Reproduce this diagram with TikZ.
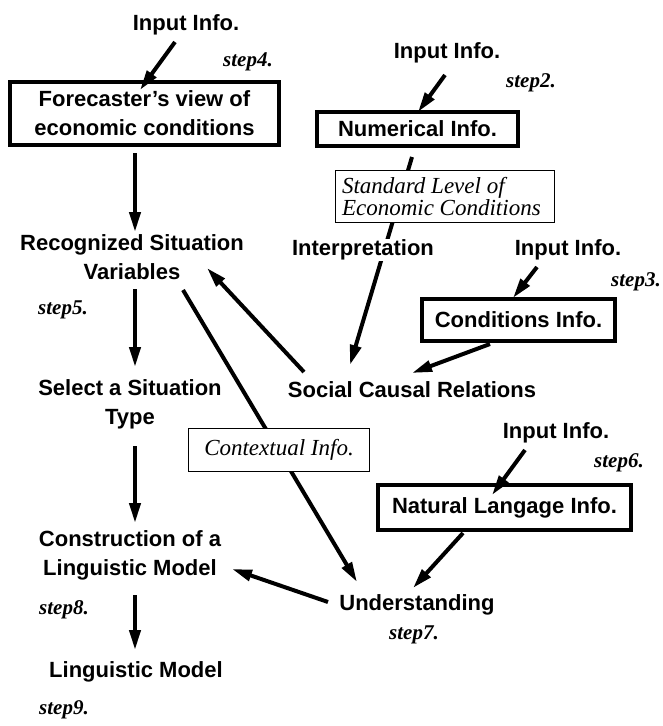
\documentclass[tikz,border=0pt]{standalone}
\usepackage{fontspec}
\setmainfont{Liberation Serif}
\setsansfont{Liberation Sans}
\usetikzlibrary{arrows.meta,calc}

\tikzset{
  lbl/.style={font=\sffamily\bfseries\fontsize{22}{29}\selectfont, align=center, inner sep=0pt},
  steplbl/.style={font=\rmfamily\bfseries\itshape\fontsize{21}{25}\selectfont, inner sep=0pt},
  thickbox/.style={lbl, draw, line width=3.8pt},
  notebox/.style={draw, line width=1.3pt, fill=white, inner sep=0pt,
                  font=\rmfamily\itshape\fontsize{23}{21.5}\selectfont},
  arr/.style={line width=4pt, -{Triangle[length=20pt,width=11pt]}},
}

\begin{document}
\begin{tikzpicture}[x=1pt,y=-1pt]
\useasboundingbox[fill=white] (0,0) rectangle (663,726);

% left column
\node[lbl] (in4) at (186,25) {Input Info.};
\node[steplbl] (s4) at (248,62) {step4.};
\node[thickbox, minimum width=269.5pt, minimum height=63.5pt] (fv) at (144.5,113.5)
  {Forecaster's view of\\economic conditions};
\node[lbl] (rsv) at (132,257) {Recognized Situation\\Variables};
\node[steplbl] (s5) at (63,310) {step5.};
\node[lbl] (sst) at (130,404) {Select a Situation\\Type};
\node[lbl] (clm) at (130,555) {Construction of a\\Linguistic Model};
\node[steplbl] (s8) at (64,610) {step8.};
\node[lbl] (lm) at (136,672) {Linguistic Model};
\node[steplbl] (s9) at (64,710) {step9.};

% right side
\node[lbl] (in2) at (447,53) {Input Info.};
\node[steplbl] (s2) at (531,83) {step2.};
\node[thickbox, minimum width=201.5pt, minimum height=34.5pt] (num) at (417.5,129) {Numerical Info.};
\node[lbl] (in3) at (568,250) {Input Info.};
\node[steplbl] (s3) at (636,282) {step3.};
\node[thickbox, minimum width=193.5pt, minimum height=42.5pt] (cond) at (518.5,320) {Conditions Info.};
\node[lbl] (scr) at (412,390) {Social Causal Relations};
\node[lbl] (in6) at (556,433) {Input Info.};
\node[steplbl] (s6) at (619,463) {step6.};
\node[thickbox, minimum width=253.5pt, minimum height=45.5pt] (nat) at (504.5,507.5) {Natural Langage Info.};
\node[lbl] (und) at (417,605) {Understanding};
\node[steplbl] (s7) at (414,635) {step7.};

% connectors passing under the note boxes
\draw[arr] ($(num)+(-5.5,28)$) -- ($(scr)+(-62,-25)$);
\draw[arr] ($(rsv)+(51,33)$) -- ($(und)+(-60,-23)$);

% note boxes and label drawn over the lines
\node[notebox, minimum width=219pt, minimum height=52pt] (std) at (445,196.5)
  {\parbox{206pt}{\raggedright Standard Level of\\Economic Conditions}};
\node[lbl, fill=white, inner sep=1pt] (interp) at (363,250) {Interpretation};
\node[notebox, minimum width=181pt, minimum height=43pt] (ctx) at (279,450) {Contextual Info.};

% remaining connectors
\draw[arr] ($(in4)+(-11,17)$) -- ($(fv)+(-4.5,-23.5)$);
\draw[arr] ($(fv)+(-9.5,39.5)$) -- ($(rsv)+(3,-25)$);
\draw[arr] ($(rsv)+(3,32)$) -- ($(sst)+(5,-37)$);
\draw[arr] ($(sst)+(5,42)$) -- ($(clm)+(5,-32)$);
\draw[arr] ($(clm)+(5,40)$) -- ($(lm)+(-1,-22)$);
\draw[arr] ($(in2)+(-2,22)$) -- ($(num)+(0.5,-17)$);
\draw[arr] ($(in3)+(-31,17)$) -- ($(cond)+(-5.5,-22)$);
\draw[arr] ($(cond)+(-28.5,24)$) -- ($(scr)+(0,-17)$);
\draw[arr] ($(scr)+(-108,-18)$) -- ($(rsv)+(75,11)$);
\draw[arr] ($(in6)+(-31,17)$) -- ($(nat)+(-12.5,-12.5)$);
\draw[arr] ($(nat)+(-41.5,25.5)$) -- ($(und)+(-4,-17)$);
\draw[arr] ($(und)+(-89,-3)$) -- ($(clm)+(102,14)$);
\end{tikzpicture}
\end{document}
